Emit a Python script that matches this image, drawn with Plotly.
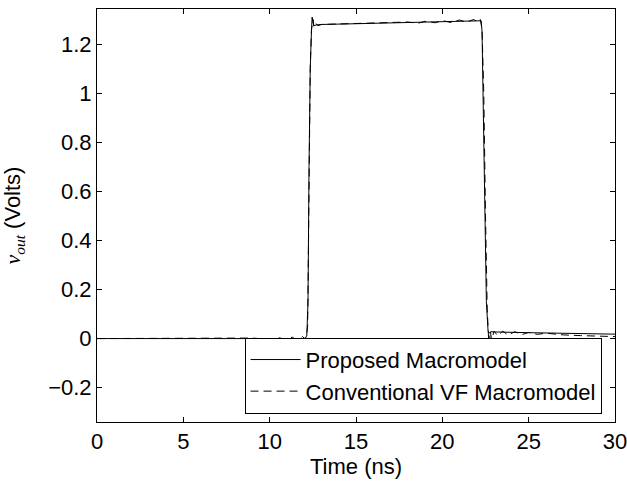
import plotly.graph_objects as go

# Proposed macromodel (solid)
t_prop = [0, 4, 8, 12.0, 12.15, 12.22, 12.28, 12.35, 12.42, 12.46, 12.5, 12.56, 12.7, 13, 15, 18, 20,
          22.0, 22.25, 22.3, 22.35, 22.45, 22.55, 22.65, 22.72, 22.8, 23, 25, 28, 30]
v_prop = [0, 0, 0, 0, 0.01, 0.15, 0.7, 1.1, 1.25, 1.31, 1.29, 1.275, 1.278, 1.28, 1.283, 1.288, 1.292,
          1.295, 1.295, 1.25, 1.0, 0.5, 0.15, 0.03, 0.022, 0.028, 0.027, 0.024, 0.02, 0.018]

# Conventional VF macromodel (dashed)
t_conv = [0, 2, 4, 6, 8, 9, 10, 10.5, 11, 11.3, 11.6, 11.9, 12.1, 12.2, 12.28, 12.35, 12.42, 12.48,
          12.52, 12.56, 12.65, 12.8, 13, 14, 15, 16, 17, 18, 18.6, 19, 19.6, 20, 20.5, 21, 21.4, 21.8,
          22.1, 22.2, 22.3, 22.4, 22.5, 22.6, 22.68, 22.72, 22.78, 22.85, 23.0, 23.2, 23.5, 23.8, 24.2,
          24.6, 25, 25.5, 26, 27, 28, 29, 30]
v_conv = [0, 0, 0, 0, 0, 0.002, -0.003, 0.004, -0.005, 0.006, -0.008, 0.008, -0.005, 0.05, 0.6, 1.1,
          1.26, 1.295, 1.3, 1.27, 1.285, 1.275, 1.28, 1.282, 1.284, 1.286, 1.288, 1.29, 1.285, 1.293,
          1.287, 1.296, 1.288, 1.298, 1.289, 1.3, 1.29, 1.3, 1.26, 1.0, 0.5, 0.12, 0.0, -0.02, 0.03,
          -0.005, 0.03, 0.012, 0.03, 0.014, 0.028, 0.016, 0.025, 0.017, 0.022, 0.015, 0.012, 0.01, 0.008]

x_ticks = [0, 5, 10, 15, 20, 25, 30]
y_ticks = [-0.2, 0, 0.2, 0.4, 0.6, 0.8, 1, 1.2]

FONT = "Liberation Sans, Arial, Helvetica, sans-serif"
FS = 22

fig = go.Figure()
fig.add_trace(go.Scatter(x=t_prop, y=v_prop, mode="lines", name="Proposed Macromodel",
                         line=dict(color="black", width=1)))
fig.add_trace(go.Scatter(x=t_conv, y=v_conv, mode="lines", name="Conventional VF Macromodel",
                         line=dict(color="black", width=1, dash="8px,5px")))

axis_common = dict(showgrid=False, zeroline=False, showline=True, linecolor="black", linewidth=1,
                   mirror="ticks", ticks="inside", ticklen=5, tickcolor="black", automargin=False,
                   ticklabeloverflow="allow",
                   tickfont=dict(family=FONT, size=FS, color="black"))

fig.update_layout(
    width=627, height=484,
    margin=dict(l=97, r=12, t=9, b=62),
    paper_bgcolor="white", plot_bgcolor="white",
    font=dict(family=FONT, size=FS, color="black"),
    showlegend=True,
    legend=dict(x=0.974, y=0.02, xanchor="right", yanchor="bottom",
                bgcolor="white", bordercolor="black", borderwidth=1,
                font=dict(family=FONT, size=FS, color="black"),
                itemwidth=50, tracegroupgap=0),
    xaxis=dict(range=[0, 30], tickvals=x_ticks,
               title=dict(text="Time (ns)", font=dict(family=FONT, size=FS), standoff=3),
               **axis_common),
    yaxis=dict(range=[-0.34, 1.343], tickvals=y_ticks,
               title=dict(text="<span style='font-family:Liberation Serif, Times New Roman, serif'><i>v</i><sub><i>out</i></sub></span> (Volts)",
                          font=dict(family=FONT, size=FS), standoff=22),
               **axis_common),
)

fig.write_html("out.html")
